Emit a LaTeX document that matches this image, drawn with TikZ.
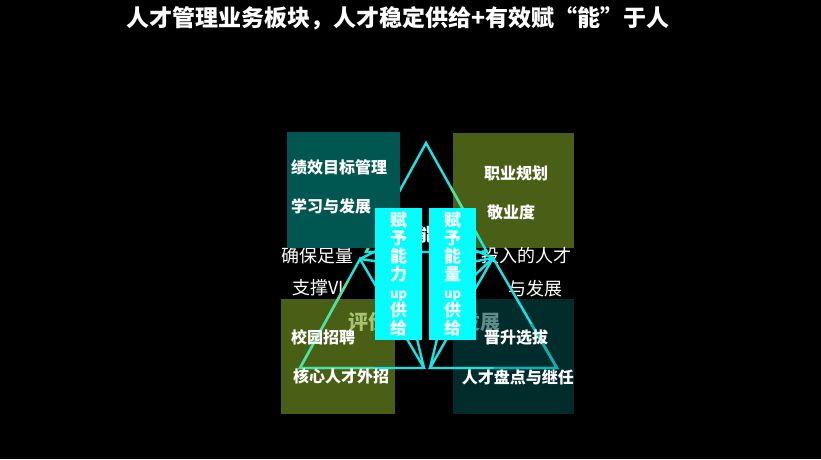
\documentclass[tikz,border=0pt]{standalone}
\usepackage{fontspec}
\setmainfont{Noto Sans CJK SC}
\usetikzlibrary{positioning,calc}
\definecolor{tealsq}{HTML}{005752}
\definecolor{olivesq}{HTML}{4A5F16}
\definecolor{darksq}{HTML}{002C2C}
\definecolor{barcyan}{HTML}{00FFFF}
\definecolor{tricyan}{HTML}{10E8E8}
\definecolor{trigreen}{HTML}{4FE39A}
\definecolor{evalgreen}{HTML}{A7C46F}
\definecolor{evalgray}{HTML}{5F8C8A}

\begin{document}
\begin{tikzpicture}[x=1pt,y=-1pt,
  sq/.style={minimum width=114pt,minimum height=116pt,inner sep=0pt,anchor=north west},
  txt/.style={text=white,font=\bfseries\fontsize{16}{18}\selectfont,inner sep=0pt},
  hid/.style={text=white,font=\fontsize{18}{20}\selectfont,inner sep=0pt},
  bar/.style={fill=barcyan,minimum width=47pt,minimum height=132pt,inner sep=0pt,anchor=north west,
    text=white,align=center,font=\bfseries\fontsize{17}{18}\selectfont},
  tri/.style={draw=tricyan,line width=2.4pt,line join=miter}]
\fill[black] (0,0) rectangle (821,459);
\useasboundingbox (0,0) rectangle (821,459);

% title
\node[text=white,font=\bfseries\fontsize{23}{26}\selectfont,inner sep=0pt] (title) at (398,18)
  {人才管理业务板块，人才稳定供给+有效赋“能”于人};

% squares under the triangles
\node[sq,fill=olivesq,minimum width=121pt,minimum height=115pt] (career) at (453,133) {};
\node[sq,fill=olivesq,minimum height=115pt] (recruit) at (281,299) {};
\node[sq,fill=darksq,minimum width=121pt,minimum height=115pt] (promote) at (453,299) {};

% hidden texts
\node[hid,anchor=west] (lone) at (281,256) {确保足量};
\node[hid,anchor=west] (ltwo) at (292,288) {支撑VI};
\node[hid,anchor=east] (rone) at (572,256) {投入的人才};
\node[hid,anchor=east] (rtwo) at (563,289) {与发展};
\node[hid,anchor=west,text=evalgreen,font=\bfseries\fontsize{20}{22}\selectfont] (evl) at (348,322) {评价};
\node[hid,anchor=east,text=evalgray,font=\bfseries\fontsize{20}{22}\selectfont] (evr) at (501,322) {发展};
\node[hid,font=\bfseries\fontsize{18}{20}\selectfont] (mid) at (426,235) {能};

% triangles
\coordinate (ta) at (426,143);
\coordinate (tl) at (366,252);
\coordinate (tr) at (487,252);
\coordinate (la) at (360,259);
\coordinate (ll) at (300,368);
\coordinate (lr) at (424,368);
\coordinate (ra) at (493,258);
\coordinate (rl) at (430,368);
\coordinate (rr) at (557,368);
\coordinate (ci) at (396,252);
\coordinate (cj) at (458,252);
\draw[tri] (ta) -- (tl) -- (tr) -- cycle;
\draw[tri] (la) -- (ll) -- (lr) -- cycle;
\draw[tri] (ra) -- (rl) -- (rr) -- cycle;
\draw[tri] (ci) -- (lr);
\draw[tri] (cj) -- (rl);
\draw[tri] (la) -- (380,249);
\draw[tri] (la) -- (382,262);
\draw[tri] (ra) -- (472,249);
\draw[tri] (ra) -- (472,262);
\draw[tri] (ra) -- (474,276);
\draw[tri,draw=trigreen] ($(ta)!0.4!(tr)$) -- ($(ta)!0.85!(tr)$);
\draw[tri,draw=trigreen] ($(la)!0.2!(ll)$) -- (ll) -- ($(ll)!0.6!(lr)$);
\draw[tri,draw=trigreen!60!tricyan] ($(tl)!0.3!(ta)$) -- (tl);
\draw[tri,draw=tricyan!70!darksq] ($(ra)!0.6!(rr)$) -- (rr) -- ($(rr)!0.5!(rl)$);

% square over the top triangle
\node[sq,fill=tealsq,minimum width=113pt] (perf) at (287,132) {};

% square texts
\node[txt,anchor=west] (perfa) at (291,167) {绩效目标管理};
\node[txt,anchor=west] (perfb) at (291,206) {学习与发展};
\node[txt] (cara) at (516,173) {职业规划};
\node[txt] (carb) at (511,212) {敬业度};
\node[txt,anchor=west] (reca) at (291,337) {校园招聘};
\node[txt,anchor=west] (recb) at (293,376) {核心人才外招};
\node[txt] (proa) at (516,338) {晋升选拔};
\node[txt,anchor=east] (prob) at (574,377) {人才盘点与继任};

% cyan bars
\node[bar] (abil) at (375,208) {赋\\予\\能\\力\\{\fontsize{13}{18}\selectfont up}\\供\\给};
\node[bar] (ener) at (429,208) {赋\\予\\能\\量\\{\fontsize{13}{18}\selectfont up}\\供\\给};
\end{tikzpicture}
\end{document}
